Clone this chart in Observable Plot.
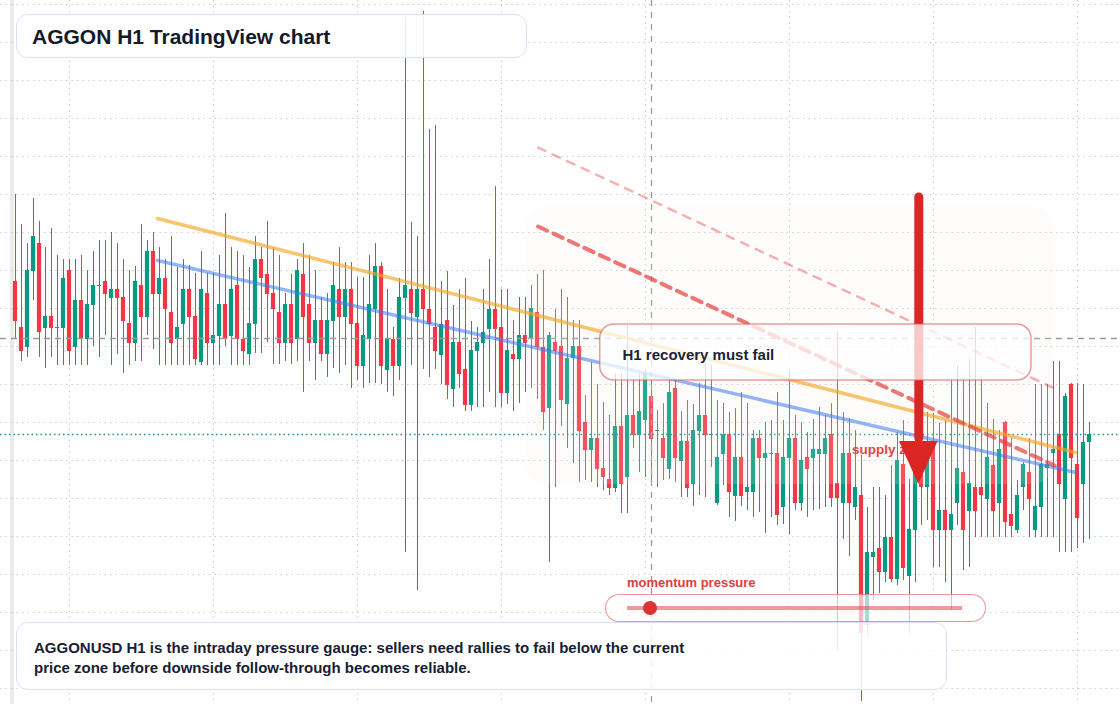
<!DOCTYPE html>
<html>
<head>
<meta charset="utf-8">
<script src="https://cdn.jsdelivr.net/npm/d3@7"></script>
<script src="https://cdn.jsdelivr.net/npm/@observablehq/plot@0.6"></script>
<style>
  html, body { margin: 0; padding: 0; background: #ffffff; }
  body { width: 1120px; height: 704px; overflow: hidden; font-family: "Liberation Sans", Arial, Helvetica, sans-serif; }
  #wrap { position: relative; width: 1120px; height: 704px; }
  #band { position: absolute; left: 10px; top: 0; width: 4px; height: 704px; background: #ebebeb; }
  #chart { position: absolute; left: 0; top: 0; }
  .box { position: absolute; box-sizing: border-box; border: 1.5px solid #d6e3f6; border-radius: 12px; background: rgba(255,255,255,0.88); }
  .txt { position: absolute; white-space: nowrap; font-weight: 700; }
  #title { left: 32px; top: 25.9px; font-size: 21px; line-height: 21px; color: #121a2b; }
  #caption { left: 34px; top: 638px; font-size: 15px; line-height: 20px; color: #172033; }
  #glabel { left: 627px; top: 576.2px; font-size: 13px; line-height: 13px; color: #e03c3c; }
  #gpill { position: absolute; left: 605px; top: 593.5px; width: 381px; height: 28px; box-sizing: border-box;
           border: 1.5px solid rgba(226,80,80,0.6); border-radius: 14px; background: rgba(255,255,255,0.65); }
  #gtrack { position: absolute; left: 627px; top: 605.5px; width: 335px; height: 4.5px; background: rgba(225,70,70,0.55); }
  #gknob { position: absolute; left: 643px; top: 601px; width: 14px; height: 14px; border-radius: 50%; background: #dc3434; }
</style>
</head>
<body>
<div id="wrap">
  <div id="band"></div>
  <div id="chart"></div>
  <div class="box" style="left:16px; top:14px; width:511px; height:44px;"></div>
  <div class="txt" id="title">AGGON H1 TradingView chart</div>
  <div id="gpill"></div>
  <div id="gtrack"></div>
  <div id="gknob"></div>
  <div class="txt" id="glabel">momentum pressure</div>
  <div class="box" style="left:16px; top:622px; width:931px; height:68px; background: rgba(255,255,255,0.86);"></div>
  <div class="txt" id="caption">AGGONUSD H1 is the intraday pressure gauge: sellers need rallies to fail below the current<br>price zone before downside follow-through becomes reliable.</div>
</div>
<script>
// ---- OHLC data (H1 bars, price units) ----
const open = [
42.3,37.7,35.7,43.3,46.1,37.6,38.8,37.6,37.6,43.4,
35.7,40.4,36.5,39.9,41.8,42.3,40.6,41.5,40.7,38.1,
36.1,41.9,38.7,45.3,41.0,42.6,39.2,36.5,38.0,41.5,
38.8,34.2,41.1,36.1,36.8,40.0,36.8,41.9,36.5,35.0,
38.0,44.5,43.0,41.1,39.2,36.1,40.0,36.5,43.0,40.0,
36.1,38.4,35.0,38.3,41.5,38.7,41.5,38.1,33.8,36.5,
39.5,43.8,33.4,36.5,33.8,40.6,41.5,38.7,41.5,39.5,
37.7,34.9,38.4,31.5,36.2,33.5,29.9,35.3,36.1,37.5,
39.5,37.7,31.1,35.0,34.5,36.9,36.5,39.2,35.7,29.6,
36.2,35.8,30.0,34.6,35.8,28.2,25.4,26.6,23.6,22.5,
21.6,27.8,22.7,28.9,26.9,28.4,30.8,27.3,26.6,23.5,
31.6,24.3,26.3,22.0,27.3,28.9,26.9,20.1,25.0,27.0,
20.8,24.7,21.2,21.2,26.6,24.6,25.0,25.1,19.7,24.6,
26.6,20.1,24.7,24.6,25.0,25.0,27.0,22.1,20.1,25.1,
19.7,20.9,7.9,14.7,15.6,13.2,16.7,12.5,24.0,12.8,
17.4,25.4,21.7,26.1,17.4,19.4,17.4,20.1,23.2,19.3,
21.7,21.7,20.5,23.9,20.1,28.2,19.0,17.4,21.7,23.2,
17.4,19.7,23.6,25.1,27.0,20.5,32.0,24.0,22.0,26.2];
const high = [
51.0,48.0,46.1,50.6,48.3,45.7,47.6,44.9,44.5,44.5,
44.5,44.9,43.4,45.3,46.4,46.4,47.2,46.1,44.5,43.4,
43.8,48.0,46.4,47.2,45.7,44.5,46.8,43.7,44.5,43.9,
43.1,45.3,43.1,43.1,44.9,49.1,45.7,45.3,44.9,43.7,
46.8,45.7,48.3,45.7,44.9,41.1,43.0,44.5,46.1,44.9,
43.4,40.7,41.1,44.2,45.7,44.2,44.2,42.7,42.7,44.9,
46.1,44.2,41.5,37.7,42.6,68.6,48.2,46.8,69.3,57.5,
57.9,42.3,43.3,39.9,41.5,42.6,38.3,37.7,41.5,44.5,
51.8,41.5,41.5,38.4,40.7,40.7,41.9,43.0,43.4,37.2,
39.5,41.5,40.7,38.4,38.4,30.9,34.2,32.0,30.2,28.9,
33.1,33.1,37.9,32.4,33.1,33.4,32.4,29.4,30.1,32.4,
32.4,29.3,30.4,30.0,32.1,34.2,33.9,30.4,30.1,29.2,
29.6,31.2,30.1,27.4,27.4,28.2,28.4,31.2,28.4,33.4,
28.9,28.2,27.2,28.5,29.7,28.9,30.1,37.2,29.2,28.6,
27.4,24.9,19.7,21.7,21.7,20.9,23.9,27.2,28.4,22.5,
28.1,29.7,29.2,29.1,28.1,28.4,32.4,33.9,32.4,34.6,
37.7,32.7,30.1,28.5,27.4,28.3,26.6,22.4,24.2,26.6,
32.0,32.0,32.0,34.3,34.3,31.1,32.1,32.1,32.0,28.2];
const low = [
36.6,34.3,34.7,40.4,34.7,33.6,34.7,33.9,33.9,33.9,
33.9,33.9,33.9,35.8,34.7,36.9,33.9,35.0,33.1,33.9,
34.3,34.3,36.9,35.5,33.9,33.9,33.9,33.9,33.9,33.9,
33.9,33.9,33.9,33.9,33.9,35.8,33.9,33.9,33.9,33.9,
35.1,35.1,36.2,34.0,34.0,34.3,34.0,34.3,31.2,34.3,
32.4,34.3,32.7,33.6,33.1,33.9,31.6,32.4,31.6,32.1,
32.1,32.0,31.2,30.8,32.4,15.2,33.9,11.4,33.5,32.7,
33.5,32.0,30.5,29.7,31.6,29.3,29.3,29.7,29.7,31.2,
29.7,29.7,30.0,29.3,30.1,31.2,31.6,30.5,27.4,14.2,
21.7,27.8,25.6,24.1,22.2,22.4,22.2,21.7,21.4,20.9,
21.2,19.1,19.1,25.6,23.2,22.7,22.1,21.7,22.4,22.5,
22.2,20.7,20.7,19.8,20.9,20.7,23.7,19.9,21.9,18.7,
18.3,19.8,19.4,18.7,19.2,17.1,18.7,17.9,18.0,17.0,
19.4,19.3,18.7,19.4,19.5,19.7,19.7,5.4,16.5,14.8,
18.4,0.3,6.9,10.4,11.1,12.2,12.2,11.9,12.4,6.9,
12.2,17.9,18.4,13.7,13.7,12.2,9.4,17.9,13.4,13.7,
16.7,16.7,16.7,16.7,16.7,16.7,16.7,17.1,19.4,16.7,
16.7,16.7,16.7,16.7,15.2,15.2,15.2,15.6,16.1,16.5];
const close = [
38.3,35.3,43.4,46.8,37.2,38.8,37.6,37.7,42.6,35.3,
40.4,36.5,40.0,41.9,41.9,41.0,41.5,40.6,38.3,36.1,
42.3,38.7,45.3,41.0,42.6,39.5,36.1,37.7,41.5,38.7,
34.5,41.5,36.1,36.9,40.0,36.5,41.5,36.5,35.3,38.1,
44.5,42.6,41.0,39.5,36.1,40.0,36.1,43.4,38.7,36.1,
38.4,35.0,38.4,41.9,38.7,41.5,38.0,33.8,36.9,40.0,
43.8,33.8,36.5,33.8,40.7,41.9,39.1,41.5,39.5,38.0,
35.3,38.0,31.9,36.2,33.0,29.9,35.4,36.2,37.2,39.5,
37.5,31.1,35.4,34.5,36.9,36.1,39.6,35.7,29.2,36.9,
35.3,30.4,34.6,35.8,27.3,25.4,26.6,23.5,22.7,21.6,
27.8,22.0,28.9,26.9,29.3,33.1,26.5,27.4,24.6,31.2,
24.6,26.3,21.6,27.4,28.9,26.9,27.0,24.7,27.0,21.2,
24.7,20.8,21.7,26.6,24.6,25.1,25.1,18.9,24.7,26.6,
20.1,24.4,23.5,25.5,25.5,26.6,20.6,20.6,25.1,20.1,
21.7,7.1,15.2,15.2,13.2,16.7,12.5,24.4,13.6,17.5,
23.6,21.7,24.4,17.4,19.4,17.4,19.0,23.6,17.4,22.1,
19.3,20.9,24.7,19.3,25.5,18.2,17.8,20.9,24.0,20.5,
19.8,24.0,24.0,25.5,22.0,30.8,24.6,18.6,26.2,27.0];

// ---- grid / reference levels ----
const xGridBars = [9, 33, 57, 81, 105, 129, 153, 177];           // session separators (bar index)
const yGridPrices = [70.0, 66.2, 62.4, 58.6, 54.8, 51.0, 47.2, 43.4, 39.6, 35.8, 32.0, 28.2, 24.4, 20.6, 16.8, 13.0, 9.2, 5.4, 1.6];
const lastPrice = 27.0;
const crosshair = { bar: 106, price: 36.6 };

// ---- drawings (bar index, price) ----
const trendOrange = [{ bar: 23.67, price: 48.6 }, { bar: 176.67, price: 25.2 }];
const trendBlue   = [{ bar: 23.67, price: 44.4 }, { bar: 176.67, price: 23.2 }];
const channelMain = [{ bar: 87.1, price: 47.8 }, { bar: 173.17, price: 23.9 }];
const channelUpper = [{ bar: 87.1, price: 55.7 }, { bar: 172.83, price: 31.7 }];
const supplyZone = [{ bar1: 85.17, bar2: 173.0, p1: 22.0, p2: 49.7 }];
const noteBox = [{ bar1: 97.45, bar2: 169.33, p1: 32.4, p2: 38.0 }];
const noteText = [{ bar: 101.17, price: 34.95, label: "H1 recovery must fail" }];
const supplyLabel = [{ bar: 139.42, price: 25.5, label: "supply zone" }];
const arrowShaft = [{ bar: 150.55, from: 50.7, to: 26.6 }];
const arrowHead = [
  { bar: 147.33, tip: 26.3, base: 26.3 },
  { bar: 150.55, tip: 22.0, base: 26.3 },
  { bar: 153.77, tip: 26.3, base: 26.3 }
];

const UP = "#089981", DOWN = "#f23645";
const candles = open.map((o, i) => ({ bar: i, o, h: high[i], l: low[i], c: close[i], up: close[i] >= o }));
const FONT = "Liberation Sans, Arial, Helvetica, sans-serif";

const chart = Plot.plot({
  width: 1120,
  height: 704,
  margin: 0,
  x: { type: "linear", domain: [-2.5, 184.1667], axis: null },
  y: { type: "linear", domain: [0, 70.4], axis: null },
  style: { background: "transparent", fontFamily: FONT, overflow: "visible" },
  marks: [
    Plot.ruleY(yGridPrices, { stroke: "#cccccc", strokeWidth: 1, strokeDasharray: "1.5,4" }),
    Plot.ruleX(xGridBars, { stroke: "#cccccc", strokeWidth: 1, strokeDasharray: "1.5,4" }),
    Plot.ruleX(candles, { x: "bar", y1: "l", y2: "h", stroke: d => d.up ? UP : DOWN, strokeWidth: 1 }),
    Plot.rect(candles, { x1: d => d.bar - 0.35, x2: d => d.bar + 0.35, y1: "o", y2: "c", fill: d => d.up ? UP : DOWN }),
    Plot.ruleY([crosshair.price], { stroke: "#9a9a9a", strokeWidth: 1.3, strokeDasharray: "6,5" }),
    Plot.ruleX([crosshair.bar], { stroke: "#9a9a9a", strokeWidth: 1.3, strokeDasharray: "6,6" }),
    Plot.ruleY([lastPrice], { stroke: UP, strokeWidth: 1.3, strokeDasharray: "1.5,3" }),
    Plot.rect(supplyZone, { x1: "bar1", x2: "bar2", y1: "p1", y2: "p2", fill: "#f5ebe3", fillOpacity: 0.16, rx: 20 }),
    Plot.line(trendOrange, { x: "bar", y: "price", stroke: "#f5a524", strokeOpacity: 0.65, strokeWidth: 3.5 }),
    Plot.line(trendBlue, { x: "bar", y: "price", stroke: "#3b78f0", strokeOpacity: 0.55, strokeWidth: 3.5 }),
    Plot.line(channelUpper, { x: "bar", y: "price", stroke: "#e53e3e", strokeOpacity: 0.4, strokeWidth: 2.5, strokeDasharray: "8,8" }),
    Plot.line(channelMain, { x: "bar", y: "price", stroke: "#e53e3e", strokeOpacity: 0.7, strokeWidth: 4, strokeDasharray: "10,7" }),
    Plot.text(supplyLabel, { x: "bar", y: "price", text: "label", textAnchor: "start", fontSize: 13.5, fontWeight: "bold", fill: "#e04545" }),
    Plot.ruleX(arrowShaft, { x: "bar", y1: "from", y2: "to", stroke: "#dc2626", strokeWidth: 9, strokeLinecap: "round" }),
    Plot.areaY(arrowHead, { x: "bar", y1: "tip", y2: "base", fill: "#dc2626" }),
    Plot.rect(noteBox, { x1: "bar1", x2: "bar2", y1: "p1", y2: "p2", fill: "#ffffff", fillOpacity: 0.75, stroke: "#e05a5a", strokeOpacity: 0.6, strokeWidth: 1.5, rx: 14 }),
    Plot.text(noteText, { x: "bar", y: "price", text: "label", textAnchor: "start", fontSize: 15, fontWeight: "bold", fill: "#1c2434" })
  ]
});
document.getElementById("chart").appendChild(chart);
</script>
</body>
</html>
